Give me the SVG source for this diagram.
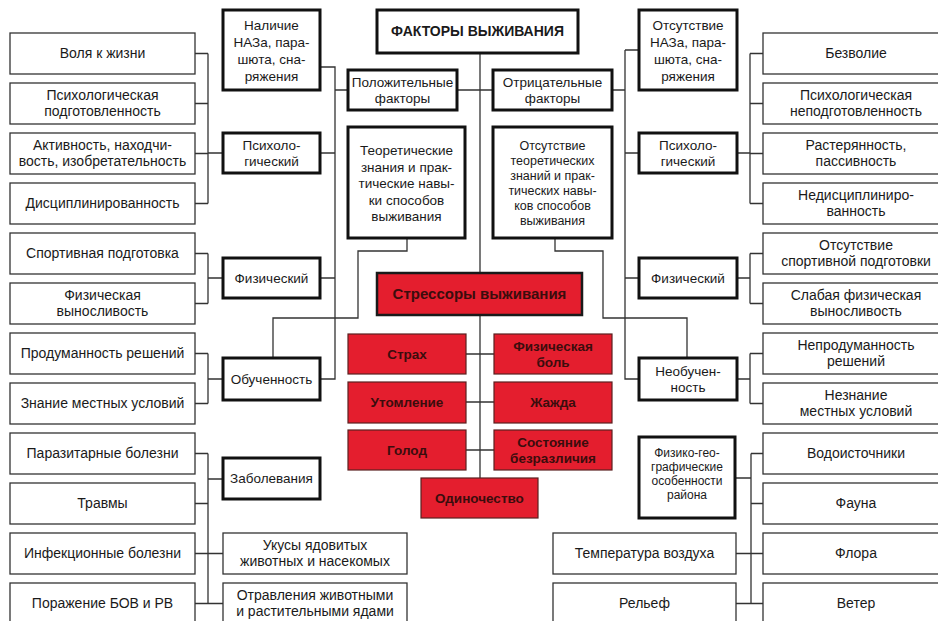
<svg xmlns="http://www.w3.org/2000/svg" width="938" height="621" viewBox="0 0 938 621">
<style>
.b{fill:#fff;stroke:#333;stroke-width:1.3}
.k{fill:#fff;stroke:#111;stroke-width:3}
.r{fill:#e41e2e;stroke:#5a2020;stroke-width:1.2}
.rk{fill:#e41e2e;stroke:#1a1a1a;stroke-width:2.5}
text{font-family:"Liberation Sans",Arial,sans-serif;font-size:14px;fill:#1a1a1a;text-anchor:middle}
.s{font-size:13.5px}
.xs{font-size:12.5px}
.xxs{font-size:12px}
.ti{font-size:14px;font-weight:bold}
.rt{font-size:13.5px;font-weight:bold;fill:#3b0d0d}
.rt2{font-size:15px;font-weight:bold;fill:#3b0d0d}
.c{stroke:#333;stroke-width:1.3;fill:none}
</style>
<rect width="938" height="621" fill="#fff"/>
<g id="connectors" class="c">
<path d="M195 53.5H208M195 103.5H208M195 153.5H208M195 203.5H208M208 53.5V203.5M208 153H223"/>
<path d="M195 253.5H208M195 303.5H208M208 253.5V303.5M208 278H223"/>
<path d="M195 353.5H208M195 403.5H208M208 353.5V403.5M208 379H223"/>
<path d="M195 453.5H208M195 503.5H208M195 553.5H208M195 603.5H208M208 453.5V603.5M208 479H223M208 553.5H223M208 603.5H223"/>
<path d="M320 67H335V379H320M320 153H335M320 278H335M335 90H348"/>
<path d="M480 53V273M457 90H493M480 315V478M466 354H494M466 402H494M466 450H494"/>
<path d="M407 238V251H358V318H273V358"/>
<path d="M555 238V251H603V318H687V358"/>
<path d="M612 90H625M625 50V379H639M625 50H639M625 153H639M625 278H639"/>
<path d="M737 153H750M750 53.5V203.5M750 53.5H763M750 103.5H763M750 153.5H763M750 203.5H763"/>
<path d="M737 278H750M750 253.5V303.5M750 253.5H763M750 303.5H763"/>
<path d="M737 379H750M750 353.5V403.5M750 353.5H763M750 403.5H763"/>
<path d="M751 453.5V603.5M751 453.5H763M751 503.5H763M751 553.5H763M751 603.5H763M735 478H751M736 553.5H751M736 603.5H751"/>
</g>
<g id="n-volya"><rect class="b" x="10" y="33" width="185" height="41"/><text x="102.5" y="58">Воля к жизни</text></g>
<g id="n-psih-podg"><rect class="b" x="10" y="83" width="185" height="41"/><text x="102.5" y="100">Психологическая</text><text x="102.5" y="116">подготовленность</text></g>
<g id="n-aktiv"><rect class="b" x="10" y="133" width="185" height="41"/><text x="102.5" y="150">Активность, находчи-</text><text x="102.5" y="166">вость, изобретательность</text></g>
<g id="n-discip"><rect class="b" x="10" y="183" width="185" height="41"/><text x="102.5" y="208">Дисциплинированность</text></g>
<g id="n-sport"><rect class="b" x="10" y="233" width="185" height="41"/><text x="102.5" y="258">Спортивная подготовка</text></g>
<g id="n-vynos"><rect class="b" x="10" y="283" width="185" height="41"/><text x="102.5" y="300">Физическая</text><text x="102.5" y="316">выносливость</text></g>
<g id="n-produm"><rect class="b" x="10" y="333" width="185" height="41"/><text x="102.5" y="358">Продуманность решений</text></g>
<g id="n-znanie"><rect class="b" x="10" y="383" width="185" height="41"/><text x="102.5" y="408">Знание местных условий</text></g>
<g id="n-parazit"><rect class="b" x="10" y="433" width="185" height="41"/><text x="102.5" y="458">Паразитарные болезни</text></g>
<g id="n-travmy"><rect class="b" x="10" y="483" width="185" height="41"/><text x="102.5" y="508">Травмы</text></g>
<g id="n-infek"><rect class="b" x="10" y="533" width="185" height="41"/><text x="102.5" y="558">Инфекционные болезни</text></g>
<g id="n-bov"><rect class="b" x="10" y="583" width="185" height="41"/><text x="102.5" y="608">Поражение БОВ и РВ</text></g>
<g id="n-nalichie"><rect class="k" x="223" y="10" width="97" height="80"/><text class="s" x="271.5" y="30">Наличие</text><text class="s" x="271.5" y="47">НАЗа, пара-</text><text class="s" x="271.5" y="64">шюта, сна-</text><text class="s" x="271.5" y="81">ряжения</text></g>
<g id="n-psih-l"><rect class="k" x="223" y="133" width="97" height="40"/><text class="s" x="271.5" y="150">Психоло-</text><text class="s" x="271.5" y="166">гический</text></g>
<g id="n-fiz-l"><rect class="k" x="223" y="258" width="97" height="40"/><text class="s" x="271.5" y="283">Физический</text></g>
<g id="n-obuch"><rect class="k" x="223" y="358" width="97" height="42"/><text class="s" x="271.5" y="384">Обученность</text></g>
<g id="n-zabol"><rect class="k" x="223" y="458" width="97" height="41"/><text class="s" x="271.5" y="483">Заболевания</text></g>
<g id="n-ukusy"><rect class="b" x="223" y="533" width="184" height="41"/><text x="315" y="550">Укусы ядовитых</text><text x="315" y="566">животных и насекомых</text></g>
<g id="n-otravl"><rect class="b" x="223" y="583" width="184" height="41"/><text x="315" y="600">Отравления животными</text><text x="315" y="616">и растительными ядами</text></g>
<g id="n-title"><rect class="k" x="377" y="10" width="201" height="43"/><text class="ti" x="477.5" y="36">ФАКТОРЫ ВЫЖИВАНИЯ</text></g>
<g id="n-polozh"><rect class="k" x="348" y="70" width="109" height="40"/><text class="s" x="402.5" y="87">Положительные</text><text class="s" x="402.5" y="103">факторы</text></g>
<g id="n-otric"><rect class="k" x="493" y="70" width="119" height="40"/><text class="s" x="552.5" y="87">Отрицательные</text><text class="s" x="552.5" y="103">факторы</text></g>
<g id="n-teor"><rect class="k" x="348" y="127" width="117" height="111"/><text class="s" x="406.5" y="155">Теоретические</text><text class="s" x="406.5" y="171.5">знания и прак-</text><text class="s" x="406.5" y="188">тические навы-</text><text class="s" x="406.5" y="204.5">ки способов</text><text class="s" x="406.5" y="221">выживания</text></g>
<g id="n-otsut-teor"><rect class="k" x="493" y="127" width="119" height="111"/><text class="xs" x="552.5" y="149.5">Отсутствие</text><text class="xs" x="552.5" y="164.5">теоретических</text><text class="xs" x="552.5" y="179.5">знаний и прак-</text><text class="xs" x="552.5" y="194.5">тических навы-</text><text class="xs" x="552.5" y="209.5">ков способов</text><text class="xs" x="552.5" y="224.5">выживания</text></g>
<g id="n-stressory"><rect class="rk" x="377" y="273" width="205" height="42"/><text class="rt2" x="479.5" y="299">Стрессоры выживания</text></g>
<g id="n-strah"><rect class="r" x="348" y="334" width="118" height="40"/><text class="rt" x="407" y="359">Страх</text></g>
<g id="n-bol"><rect class="r" x="494" y="334" width="118" height="40"/><text class="rt" x="553" y="351">Физическая</text><text class="rt" x="553" y="367">боль</text></g>
<g id="n-utoml"><rect class="r" x="348" y="382" width="118" height="41"/><text class="rt" x="407" y="407">Утомление</text></g>
<g id="n-zhazhda"><rect class="r" x="494" y="382" width="118" height="41"/><text class="rt" x="553" y="407">Жажда</text></g>
<g id="n-golod"><rect class="r" x="348" y="430" width="118" height="40"/><text class="rt" x="407" y="455">Голод</text></g>
<g id="n-bezrazl"><rect class="r" x="494" y="430" width="118" height="40"/><text class="rt" x="553" y="447">Состояние</text><text class="rt" x="553" y="463">безразличия</text></g>
<g id="n-odinoch"><rect class="r" x="421" y="478" width="117" height="40"/><text class="rt" x="479.5" y="503">Одиночество</text></g>
<g id="n-otsut-naz"><rect class="k" x="639" y="10" width="98" height="80"/><text class="s" x="688" y="30">Отсутствие</text><text class="s" x="688" y="47">НАЗа, пара-</text><text class="s" x="688" y="64">шюта, сна-</text><text class="s" x="688" y="81">ряжения</text></g>
<g id="n-psih-r"><rect class="k" x="639" y="133" width="98" height="40"/><text class="s" x="688" y="150">Психоло-</text><text class="s" x="688" y="166">гический</text></g>
<g id="n-fiz-r"><rect class="k" x="639" y="258" width="98" height="40"/><text class="s" x="688" y="283">Физический</text></g>
<g id="n-neobuch"><rect class="k" x="639" y="358" width="98" height="42"/><text class="s" x="688" y="376">Необучен-</text><text class="s" x="688" y="392">ность</text></g>
<g id="n-fizgeo"><rect class="k" x="639" y="437" width="96" height="81"/><text class="xxs" x="687" y="457">Физико-гео-</text><text class="xxs" x="687" y="471">графические</text><text class="xxs" x="687" y="485">особенности</text><text class="xxs" x="687" y="499">района</text></g>
<g id="n-temp"><rect class="b" x="553" y="533" width="183" height="41"/><text x="644.5" y="558">Температура воздуха</text></g>
<g id="n-relef"><rect class="b" x="553" y="583" width="183" height="41"/><text x="644.5" y="608">Рельеф</text></g>
<g id="n-bezvolie"><rect class="b" x="763" y="33" width="186" height="41"/><text x="856" y="58">Безволие</text></g>
<g id="n-psih-nepodg"><rect class="b" x="763" y="83" width="186" height="41"/><text x="856" y="100">Психологическая</text><text x="856" y="116">неподготовленность</text></g>
<g id="n-rasteryan"><rect class="b" x="763" y="133" width="186" height="41"/><text x="856" y="150">Растерянность,</text><text x="856" y="166">пассивность</text></g>
<g id="n-nedisc"><rect class="b" x="763" y="183" width="186" height="41"/><text x="856" y="200">Недисциплиниро-</text><text x="856" y="216">ванность</text></g>
<g id="n-otsut-sport"><rect class="b" x="763" y="233" width="186" height="41"/><text x="856" y="250">Отсутствие</text><text x="856" y="266">спортивной подготовки</text></g>
<g id="n-slabaya"><rect class="b" x="763" y="283" width="186" height="41"/><text x="856" y="300">Слабая физическая</text><text x="856" y="316">выносливость</text></g>
<g id="n-neprodum"><rect class="b" x="763" y="333" width="186" height="41"/><text x="856" y="350">Непродуманность</text><text x="856" y="366">решений</text></g>
<g id="n-neznanie"><rect class="b" x="763" y="383" width="186" height="41"/><text x="856" y="400">Незнание</text><text x="856" y="416">местных условий</text></g>
<g id="n-vodoist"><rect class="b" x="763" y="433" width="186" height="41"/><text x="856" y="458">Водоисточники</text></g>
<g id="n-fauna"><rect class="b" x="763" y="483" width="186" height="41"/><text x="856" y="508">Фауна</text></g>
<g id="n-flora"><rect class="b" x="763" y="533" width="186" height="41"/><text x="856" y="558">Флора</text></g>
<g id="n-veter"><rect class="b" x="763" y="583" width="186" height="41"/><text x="856" y="608">Ветер</text></g>
</svg>
